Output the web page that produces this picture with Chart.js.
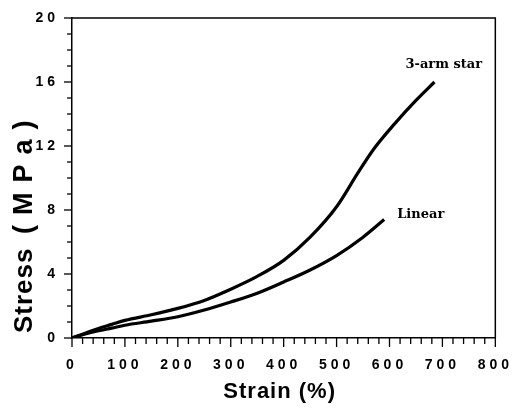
<!DOCTYPE html>
<html>
<head>
<meta charset="utf-8">
<script src="https://cdn.jsdelivr.net/npm/chart.js@4/dist/chart.umd.min.js"></script>
<style>
  html, body { margin: 0; padding: 0; background: #fff; }
  #wrap { width: 517px; height: 411px; position: relative; }
</style>
</head>
<body>
<div id="wrap"><canvas id="c" width="517" height="411"></canvas></div>
<script>
// ---- data ----
const starStrain = [0, 25, 50, 75, 100, 150, 200, 250, 300, 350, 400, 450, 500, 540, 570, 610, 650, 685];
const starStress = [0, 0.3, 0.6, 0.85, 1.1, 1.45, 1.85, 2.35, 3.05, 3.85, 4.85, 6.3, 8.2, 10.3, 11.8, 13.4, 14.85, 16.0];
const linStrain = [0, 25, 50, 75, 100, 150, 200, 250, 300, 350, 400, 450, 500, 550, 590];
const linStress = [0, 0.25, 0.45, 0.62, 0.8, 1.05, 1.33, 1.75, 2.25, 2.8, 3.5, 4.25, 5.15, 6.3, 7.4];
const seriesNames = ['3-arm star', 'Linear'];
const xTickValues = [0, 100, 200, 300, 400, 500, 600, 700, 800];
const yTickValues = [0, 4, 8, 12, 16, 20];
const xMinorStep = 20;
const yMinorStep = 1;
const xTitle = 'Strain (%)';
const yTitleParts = ['Stress', '(MPa)'];

const toPts = (xs, ys) => xs.map((x, i) => ({ x: x, y: ys[i] }));

const extras = {
  id: 'extras',
  beforeDraw(chart) {
    chart.ctx.letterSpacing = '4px';
  },
  beforeDatasetsDraw(chart) {
    chart.ctx.letterSpacing = '0px';
  },
  afterDraw(chart) {
    const ctx = chart.ctx;
    const a = chart.chartArea;
    const xs = chart.scales.x, ys = chart.scales.y;
    ctx.save();
    ctx.letterSpacing = '0px';
    ctx.strokeStyle = '#000';
    ctx.lineWidth = 1.5;
    // frame top and right
    ctx.beginPath();
    ctx.moveTo(a.left, a.top);
    ctx.lineTo(a.right, a.top);
    ctx.lineTo(a.right, a.bottom);
    ctx.stroke();
    // x ticks
    ctx.lineWidth = 1.3;
    for (let v = xs.min; v <= xs.max + 1e-9; v += xMinorStep) {
      const px = xs.getPixelForValue(v);
      const major = xTickValues.includes(v);
      ctx.beginPath();
      ctx.moveTo(px, a.bottom);
      ctx.lineTo(px, a.bottom + (major ? 9 : 6));
      ctx.stroke();
    }
    for (let v = ys.min; v <= ys.max + 1e-9; v += yMinorStep) {
      const py = ys.getPixelForValue(v);
      const major = yTickValues.includes(v);
      ctx.beginPath();
      ctx.moveTo(a.left, py);
      ctx.lineTo(a.left - (major ? 8 : 5), py);
      ctx.stroke();
    }
    // x title
    ctx.fillStyle = '#000';
    ctx.font = 'bold 22px "Liberation Sans", Arial, sans-serif';
    ctx.letterSpacing = '1px';
    ctx.textAlign = 'center';
    ctx.textBaseline = 'middle';
    ctx.fillText(xTitle, (a.left + a.right) / 2 - 4, chart.height - 19);
    // y title
    ctx.save();
    ctx.translate(25, a.bottom - 5);
    ctx.rotate(-Math.PI / 2);
    ctx.textAlign = 'left';
    ctx.font = 'bold 26px "Liberation Sans", Arial, sans-serif';
    ctx.letterSpacing = '1px';
    ctx.fillText(yTitleParts[0], 0, 0);
    ctx.font = 'bold 27px "Liberation Sans", Arial, sans-serif';
    ctx.letterSpacing = '10px';
    ctx.fillText(yTitleParts[1], 99, 0);
    ctx.restore();
    // series labels near curve ends
    ctx.letterSpacing = '0px';
    ctx.font = 'bold 13px "DejaVu Serif", serif';
    ctx.textAlign = 'left';
    ctx.textBaseline = 'alphabetic';
    const sEnd = chart.getDatasetMeta(0).data.at(-1);
    const lEnd = chart.getDatasetMeta(1).data.at(-1);
    ctx.fillText(seriesNames[0], sEnd.x - 29, sEnd.y - 14);
    ctx.fillText(seriesNames[1], lEnd.x + 13, lEnd.y - 2);
    ctx.restore();
  }
};

const tickFont = { family: '"Liberation Sans", Arial, sans-serif', size: 14, weight: 'bold' };

new Chart(document.getElementById('c'), {
  type: 'line',
  data: {
    datasets: [
      { label: seriesNames[0], data: toPts(starStrain, starStress) },
      { label: seriesNames[1], data: toPts(linStrain, linStress) }
    ]
  },
  options: {
    responsive: false,
    animation: false,
    devicePixelRatio: 1,
    layout: { padding: { top: 18, right: 21, left: 0, bottom: 0 } },
    elements: {
      line: { borderColor: '#000', borderWidth: 3.2, cubicInterpolationMode: 'monotone', fill: false },
      point: { radius: 0, hoverRadius: 0 }
    },
    plugins: { legend: { display: false }, tooltip: { enabled: false } },
    events: [],
    scales: {
      x: {
        type: 'linear', min: 0, max: 800,
        afterFit: s => { s.height = 73; },
        ticks: {
          stepSize: 100, autoSkip: false, maxRotation: 0, padding: 10,
          color: '#000', font: tickFont
        },
        grid: { display: true, drawOnChartArea: false, drawTicks: true, tickLength: 9, tickColor: 'rgba(0,0,0,0)' },
        border: { display: true, color: '#000', width: 1.5 }
      },
      y: {
        type: 'linear', min: 0, max: 20,
        afterFit: s => { s.width = 72; },
        ticks: {
          stepSize: 4, autoSkip: false, padding: 5,
          color: '#000', font: tickFont
        },
        grid: { display: true, drawOnChartArea: false, drawTicks: true, tickLength: 8, tickColor: 'rgba(0,0,0,0)' },
        border: { display: true, color: '#000', width: 1.5 }
      }
    }
  },
  plugins: [extras]
});
</script>
</body>
</html>
